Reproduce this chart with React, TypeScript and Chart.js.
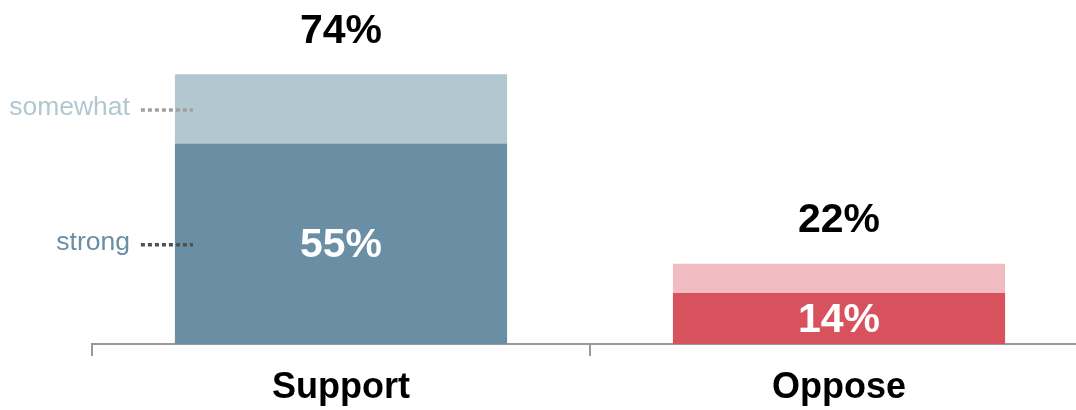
import React, { useEffect, useRef } from "react";
import { Chart, registerables } from "chart.js";

Chart.register(...registerables);

const categories = ["Support", "Oppose"];
const strongValues = [55, 14];
const somewhatValues = [19, 8];
const strongColors = ["#6a8fa4", "#d8525e"];
const somewhatColors = ["#b3c7d0", "#f0bcc2"];
const sideLabels = ["somewhat", "strong"];

const FONT = "'Liberation Sans', Arial, sans-serif";

const labelPlugin = {
  id: "labelPlugin",
  afterDatasetsDraw(chart: any) {
    const ctx = chart.ctx;
    const strongMeta = chart.getDatasetMeta(0);
    const somewhatMeta = chart.getDatasetMeta(1);
    ctx.save();
    ctx.textAlign = "center";
    ctx.textBaseline = "middle";
    ctx.font = `bold 41px ${FONT}`;
    categories.forEach((_, i) => {
      const sb = strongMeta.data[i];
      const wb = somewhatMeta.data[i];
      const total = strongValues[i] + somewhatValues[i];
      ctx.fillStyle = "#000";
      ctx.fillText(`${total}%`, wb.x, wb.y - 43);
      ctx.fillStyle = "#fff";
      ctx.fillText(`${strongValues[i]}%`, sb.x, (sb.y + sb.base) / 2 + 2);
    });
    // side annotations on first bar
    const sb0 = strongMeta.data[0];
    const wb0 = somewhatMeta.data[0];
    const left = sb0.x - sb0.width / 2;
    const rows = [
      { text: sideLabels[0], y: (wb0.y + wb0.base) / 2, color: "#b3c7d0", dot: "#a0a0a0" },
      { text: sideLabels[1], y: (sb0.y + sb0.base) / 2, color: "#6a8fa4", dot: "#505050" },
    ];
    rows.forEach((r) => {
      ctx.font = `26.5px ${FONT}`;
      ctx.textAlign = "right";
      ctx.textBaseline = "middle";
      ctx.fillStyle = r.color;
      ctx.fillText(r.text, left - 45, r.y - 1);
      ctx.beginPath();
      ctx.setLineDash([4, 3]);
      ctx.lineWidth = 3.5;
      ctx.strokeStyle = r.dot;
      ctx.moveTo(left - 34, r.y + 1);
      ctx.lineTo(left + 18, r.y + 1);
      ctx.stroke();
      ctx.setLineDash([]);
    });
    ctx.restore();
  },
};

export default function App() {
  const ref = useRef<HTMLCanvasElement>(null);
  useEffect(() => {
    if (!ref.current) return;
    const chart = new Chart(ref.current, {
      type: "bar",
      data: {
        labels: categories,
        datasets: [
          {
            label: "strong",
            data: strongValues,
            backgroundColor: strongColors,
            barPercentage: 0.667,
            categoryPercentage: 1,
          },
          {
            label: "somewhat",
            data: somewhatValues,
            backgroundColor: somewhatColors,
            barPercentage: 0.667,
            categoryPercentage: 1,
          },
        ],
      },
      options: {
        animation: false,
        responsive: true,
        maintainAspectRatio: false,
        layout: { padding: { left: 92, right: 0, top: 16, bottom: 0 } },
        plugins: { legend: { display: false }, tooltip: { enabled: false } },
        scales: {
          x: {
            stacked: true,
            offset: true,
            afterFit: (scale: any) => {
              scale.height = 66;
            },
            grid: {
              display: true,
              offset: true,
              drawOnChartArea: false,
              drawTicks: true,
              tickLength: 12,
              color: "#999999",
              lineWidth: 2,
            },
            border: { display: true, color: "#999999", width: 2 },
            ticks: {
              color: "#000",
              font: { family: FONT, size: 36, weight: "bold" },
              padding: 10,
            },
          },
          y: {
            stacked: true,
            display: false,
            min: 0,
            max: 90,
          },
        },
      },
      plugins: [labelPlugin],
    });
    return () => chart.destroy();
  }, []);
  return (
    <div
      style={{
        position: "fixed",
        left: 0,
        top: 0,
        width: 1076,
        height: 410,
        overflow: "hidden",
        background: "#fff",
      }}
    >
      <div style={{ position: "relative", width: 1088, height: 410 }}>
        <canvas ref={ref} />
      </div>
    </div>
  );
}
